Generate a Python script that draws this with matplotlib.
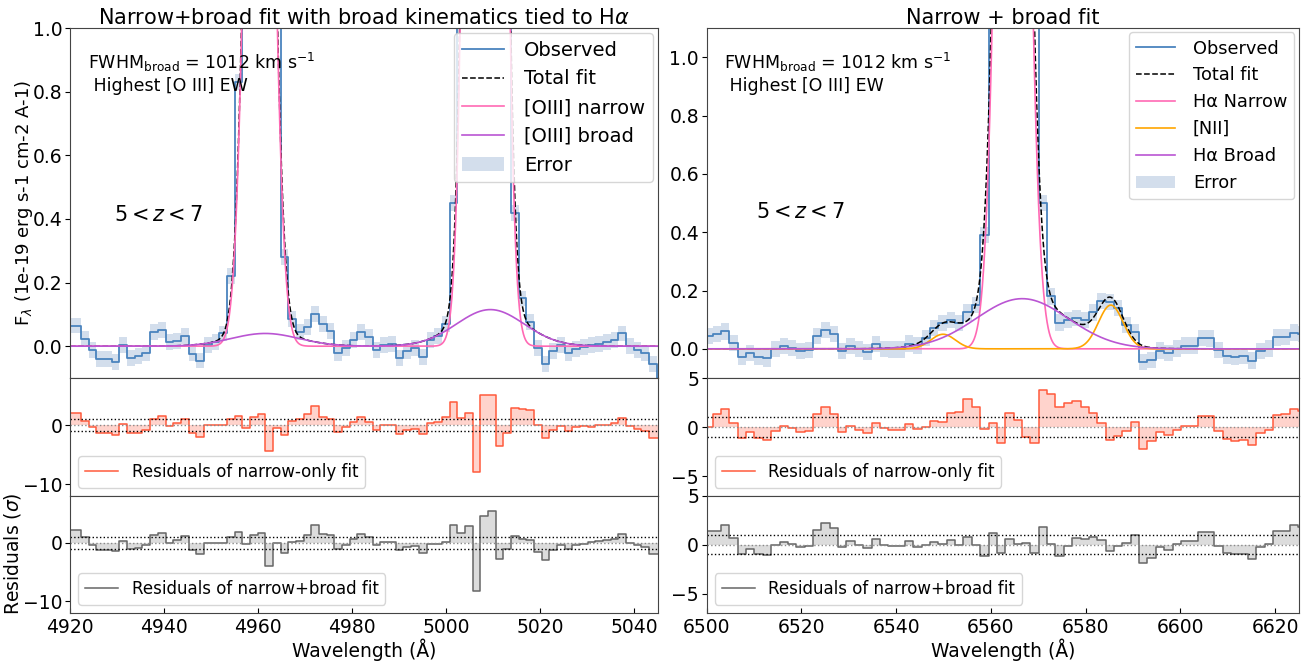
"""
Narrow vs narrow+broad fits of the stacked [O III] and Halpha profiles
(5 < z < 7, highest [O III] EW bin), with residual panels underneath.

Output: out.png
"""

import matplotlib.pyplot as plt
import numpy as np

# ── Data ──────────────────────────────────────────────────────────────────────
# Spectral grid: centre of first bin and bin width (Å, rest frame)
LEFT_BIN_START = 4919.89
LEFT_BIN_WIDTH = 1.633
RIGHT_BIN_START = 6500.38
RIGHT_BIN_WIDTH = 1.765

# Observed flux (1e-19 erg s-1 cm-2 A-1); values > 1 run off the top of the plot
LEFT_FLUX = [
    0.065, 0.065, 0.023, -0.013, -0.040, -0.040, -0.050, 0.005, -0.037, -0.030,
    -0.020, 0.044, 0.052, 0.012, 0.016, 0.033, -0.023, -0.045, 0.005, 0.013,
    0.040, 0.220, 0.830, 1.70, 3.20, 3.50, 2.30, 1.15, 0.280, 0.085,
    0.045, 0.060, 0.100, 0.070, 0.048, -0.022, -0.006, 0.020, 0.044, 0.028,
    -0.013, 0.003, 0.006, -0.036, -0.015, -0.007, -0.035, 0.020, 0.031, 0.070,
    0.450, 1.30, 4.20, 7.50, 12.5, 9.50, 4.00, 1.40, 0.420, 0.150,
    0.075, -0.005, -0.055, -0.016, 0.003, -0.020, -0.008, -0.002, 0.004, 0.008,
    0.014, 0.020, 0.040, 0.000, -0.013, -0.021, -0.056, -0.100,
]
RIGHT_FLUX = [
    0.045, 0.050, 0.060, 0.020, -0.028, -0.015, -0.027, -0.033, 0.000, 0.009,
    0.002, -0.007, -0.003, 0.045, 0.065, 0.050, -0.007, 0.010, 0.000, -0.010,
    0.017, 0.000, -0.002, -0.002, 0.018, 0.012, 0.037, 0.072, 0.088, 0.100,
    0.088, 0.125, 0.150, 0.390, 1.60, 3.00, 4.30, 4.00, 2.40, 1.40,
    0.500, 0.180, 0.090, 0.098, 0.105, 0.098, 0.125, 0.163, 0.160, 0.140,
    0.082, 0.058, -0.045, -0.038, -0.006, -0.014, 0.001, 0.011, 0.011, 0.038,
    0.036, -0.003, -0.024, -0.028, -0.025, -0.040, -0.007, 0.001, 0.039, 0.040,
    0.056, 0.052,
]
LEFT_ERR = 0.025
RIGHT_ERR = 0.028

# Residuals in units of sigma
LEFT_RES_NARROW = [
    2.0, 2.0, 0.75, -0.3, -1.4, -1.3, -1.7, 0.2, -1.3, -1.3,
    -0.9, 1.0, 1.55, -0.2, 0.4, 1.0, -1.3, -2.0, 0.1, 0.0,
    0.0, 1.0, 1.55, -0.4, 1.4, 1.85, -4.4, -0.4, -1.7, 0.75,
    1.0, 1.9, 3.3, 1.4, 1.0, -1.15, -0.3, 0.6, 1.45, 0.6,
    -0.75, 0.0, 0.0, -1.45, -0.75, -0.6, -1.45, 0.4, 0.6, 1.45,
    4.0, 1.3, 2.0, -8.0, 5.05, 5.2, -3.55, -1.25, 2.9, 2.75,
    2.6, 0.0, -2.1, -0.85, -0.2, -1.0, -0.3, -0.2, -0.3, 0.0,
    0.1, 0.3, 1.25, -0.2, -0.6, -1.0, -2.1, -2.1,
]
LEFT_RES_BROAD = [
    2.1, 2.1, 1.0, -0.3, -1.3, -1.15, -1.4, 0.3, -1.0, -0.9,
    -0.45, 1.25, 1.7, 0.0, 0.5, 1.15, -1.15, -2.0, -0.05, -0.05,
    -0.05, 1.0, 1.8, -0.2, 1.25, 1.65, -4.0, 0.0, -1.8, 0.1,
    0.3, 1.4, 3.1, 1.55, 1.4, -1.0, -0.3, 0.7, 1.55, 1.0,
    -0.45, 0.1, 0.2, -1.3, -0.75, -0.6, -1.8, -0.15, -0.15, 0.1,
    3.1, 1.65, 2.8, -8.2, 4.6, 5.4, -2.85, -1.0, 1.15, 0.7,
    0.55, -1.6, -3.0, -1.3, -0.35, -1.0, -0.45, -0.15, 0.1, 0.3,
    0.5, 0.7, 1.45, 0.0, -0.45, -0.75, -2.0, -2.0,
]
RIGHT_RES_NARROW = [
    0.0, 1.3, 1.8, 0.4, -1.1, -0.5, -1.1, -1.35, -0.35, 0.15,
    -0.05, -0.5, -0.35, 1.3, 2.05, 1.35, -0.5, 0.15, -0.25, -0.6,
    0.4, -0.1, -0.3, -0.3, 0.35, -0.2, 0.0, 0.6, 0.5, 1.45,
    1.5, 2.9, 2.1, -0.2, 0.4, -1.6, 1.4, 0.7, -1.05, -1.6,
    3.8, 3.35, 2.0, 2.5, 2.65, 2.05, 1.45, 0.45, -1.3, -0.85,
    -0.4, 0.55, -2.2, -1.45, -0.5, -0.75, -0.25, 0.1, 0.1, 1.1,
    1.1, -0.4, -1.2, -1.4, -1.3, -1.8, -0.6, -0.25, 1.25, 1.3,
    1.8, 1.65,
]
RIGHT_RES_BROAD = [
    1.4, 1.4, 2.0, 0.7, -0.95, -0.45, -0.9, -1.1, 0.0, 0.3,
    0.05, -0.25, -0.1, 1.5, 2.2, 1.7, -0.25, 0.35, 0.0, -0.35,
    0.6, 0.0, -0.1, -0.15, 0.35, -0.25, 0.0, 0.25, 0.05, 0.45,
    -0.05, 0.8, -0.05, -1.2, 1.2, -0.85, 0.6, 0.05, 0.15, -0.85,
    1.85, 0.05, -1.2, -0.15, 0.65, 0.6, 0.75, 0.5, -0.6, -0.1,
    0.15, 1.0, -1.9, -1.35, -0.2, -0.5, 0.05, 0.4, 0.4, 1.35,
    1.3, -0.1, -0.85, -1.0, -0.9, -1.45, -0.25, 0.05, 1.4, 1.45,
    2.0, 1.85,
]

# Best-fit Gaussian components (centre Å, amplitude, sigma Å)
OIII_NARROW_CEN = [4960.3, 5008.3]
OIII_NARROW_AMP = [3.5, 12.0]
OIII_NARROW_SIG = 2.4
OIII_BROAD_CEN = [4961.5, 5009.4]
OIII_BROAD_AMP = [0.040, 0.115]
OIII_BROAD_SIG = 7.2

HA_NARROW_CEN = 6564.6
HA_NARROW_AMP = 4.5
HA_NARROW_SIG = 2.6
NII_CEN = [6549.9, 6585.3]
NII_AMP = [0.05, 0.15]
NII_SIG = 2.6
HA_BROAD_CEN = 6566.6
HA_BROAD_AMP = 0.172
HA_BROAD_SIG = 9.7

# ── Style ────────────────────────────────────────────────────────────────────
OBS_COLOR = "#4a84be"
ERR_COLOR = "lightsteelblue"
NARROW_COLOR = "#ff69b4"
BROAD_COLOR = "mediumorchid"
NII_COLOR = "orange"
RES_N_COLOR = "#ff5a3c"
RES_B_COLOR = "#666666"
SPINE_COLOR = "#444444"
TICK_SIZE = 13.5

LEFT_XLIM = (4920, 5045)
RIGHT_XLIM = (6500, 6625)

W_PX, H_PX = 1312, 662


def gauss(x, cen, amp, sig):
    return amp * np.exp(-0.5 * ((x - cen) / sig) ** 2)


def bin_centres(start, width, n):
    return start + width * np.arange(n)


def style_axes(ax):
    for sp in ax.spines.values():
        sp.set_color(SPINE_COLOR)
    ax.tick_params(axis="y", direction="out", labelsize=TICK_SIZE, pad=2)
    ax.tick_params(axis="x", direction="in", labelsize=TICK_SIZE)


def draw_observed(ax, wave, flux, err):
    flux = np.asarray(flux)
    ax.fill_between(wave, flux - err, flux + err, step="mid",
                    color=ERR_COLOR, alpha=0.55, lw=0, label="Error")
    ax.step(wave, flux, where="mid", color=OBS_COLOR, lw=1.3, label="Observed")


def draw_residuals(ax, wave, res, color, fill, label, ylim, yticks):
    ax.fill_between(wave, 0, res, step="mid", color=fill, lw=0)
    ax.step(wave, res, where="mid", color=color, lw=1.1, label=label)
    ax.axhline(0, color="#888888", ls=":", lw=1)
    for lev in (-1, 1):
        ax.axhline(lev, color="black", ls=":", lw=1)
    ax.set_ylim(*ylim)
    ax.set_yticks(yticks)
    ax.legend(loc="lower left", fontsize=12, handlelength=2.0)
    style_axes(ax)


def ordered_legend(ax, keys, fontsize):
    h, l = ax.get_legend_handles_labels()
    order = [l.index(k) for k in keys]
    ax.legend([h[i] for i in order], [l[i] for i in order],
              loc="upper right", fontsize=fontsize, borderaxespad=0.25,
              handletextpad=1.0, handlelength=2.2)


def fit_note(ax, zx, zy):
    ax.text(0.03, 0.935,
            r"FWHM$_{\mathrm{broad}}$ = 1012 km s$^{-1}$" + "\n Highest [O III] EW",
            transform=ax.transAxes, fontsize=12.5, va="top", ha="left")
    ax.text(zx, zy, r"$5 < z < 7$", transform=ax.transAxes,
            fontsize=15, va="center", ha="left")


def panel_oiii(ax):
    wave = bin_centres(LEFT_BIN_START, LEFT_BIN_WIDTH, len(LEFT_FLUX))
    x = np.linspace(*LEFT_XLIM, 3000)
    narrow = sum(gauss(x, c, a, OIII_NARROW_SIG)
                 for c, a in zip(OIII_NARROW_CEN, OIII_NARROW_AMP))
    broad = sum(gauss(x, c, a, OIII_BROAD_SIG)
                for c, a in zip(OIII_BROAD_CEN, OIII_BROAD_AMP))

    draw_observed(ax, wave, LEFT_FLUX, LEFT_ERR)
    ax.plot(x, narrow + broad, "k--", lw=1.1, label="Total fit")
    ax.plot(x, narrow, color=NARROW_COLOR, lw=1.2, label="[OIII] narrow")
    ax.plot(x, broad, color=BROAD_COLOR, lw=1.2, label="[OIII] broad")

    ordered_legend(ax, ("Observed", "Total fit", "[OIII] narrow",
                        "[OIII] broad", "Error"), 14)
    fit_note(ax, 0.075, 0.466)
    ax.set_xlim(*LEFT_XLIM)
    ax.set_ylim(-0.1, 1.0)
    ax.set_title(r"Narrow+broad fit with broad kinematics tied to H$\alpha$",
                 fontsize=15, pad=3)
    style_axes(ax)
    ax.tick_params(axis="x", bottom=False, labelbottom=False)


def panel_halpha(ax):
    wave = bin_centres(RIGHT_BIN_START, RIGHT_BIN_WIDTH, len(RIGHT_FLUX))
    x = np.linspace(*RIGHT_XLIM, 3000)
    narrow = gauss(x, HA_NARROW_CEN, HA_NARROW_AMP, HA_NARROW_SIG)
    nii = sum(gauss(x, c, a, NII_SIG) for c, a in zip(NII_CEN, NII_AMP))
    broad = gauss(x, HA_BROAD_CEN, HA_BROAD_AMP, HA_BROAD_SIG)

    draw_observed(ax, wave, RIGHT_FLUX, RIGHT_ERR)
    ax.plot(x, narrow + nii + broad, "k--", lw=1.1, label="Total fit")
    ax.plot(x, narrow, color=NARROW_COLOR, lw=1.2, label="Hα Narrow")
    ax.plot(x, nii, color=NII_COLOR, lw=1.2, label="[NII]")
    ax.plot(x, broad, color=BROAD_COLOR, lw=1.2, label="Hα Broad")

    ordered_legend(ax, ("Observed", "Total fit", "Hα Narrow", "[NII]",
                        "Hα Broad", "Error"), 12.8)
    fit_note(ax, 0.083, 0.474)
    ax.set_xlim(*RIGHT_XLIM)
    ax.set_ylim(-0.1, 1.1)
    ax.set_title("Narrow + broad fit", fontsize=15, pad=3)
    style_axes(ax)
    ax.tick_params(axis="x", bottom=False, labelbottom=False)


def main():
    fig = plt.figure(figsize=(W_PX / 100, H_PX / 100), dpi=100)

    lefts = (0.0534, 0.5386)
    widths = (0.4479, 0.4514)
    top_rect = (0.4290, 0.5287)
    mid_rect = (0.2508, 0.1782)
    bot_rect = (0.0740, 0.1768)

    axes = []
    for left, width in zip(lefts, widths):
        col = [fig.add_axes([left, r[0], width, r[1]])
               for r in (top_rect, mid_rect, bot_rect)]
        axes.append(col)

    panel_oiii(axes[0][0])
    panel_halpha(axes[1][0])

    wl = bin_centres(LEFT_BIN_START, LEFT_BIN_WIDTH, len(LEFT_RES_NARROW))
    wr = bin_centres(RIGHT_BIN_START, RIGHT_BIN_WIDTH, len(RIGHT_RES_NARROW))

    draw_residuals(axes[0][1], wl, LEFT_RES_NARROW, RES_N_COLOR, "#ffd3cc",
                   "Residuals of narrow-only fit", (-12, 8), [-10, 0])
    draw_residuals(axes[0][2], wl, LEFT_RES_BROAD, RES_B_COLOR, "#dcdcdc",
                   "Residuals of narrow+broad fit", (-12, 8), [-10, 0])
    draw_residuals(axes[1][1], wr, RIGHT_RES_NARROW, RES_N_COLOR, "#ffd3cc",
                   "Residuals of narrow-only fit", (-7, 5), [-5, 0, 5])
    draw_residuals(axes[1][2], wr, RIGHT_RES_BROAD, RES_B_COLOR, "#dcdcdc",
                   "Residuals of narrow+broad fit", (-7, 5), [-5, 0, 5])

    for col, xlim in zip(axes, (LEFT_XLIM, RIGHT_XLIM)):
        for ax in col[1:]:
            ax.set_xlim(*xlim)
        col[1].tick_params(axis="x", bottom=False, labelbottom=False)
        col[2].set_xlabel("Wavelength (Å)", fontsize=13.5, labelpad=1)

    # y labels placed by hand so they sit where the original has them
    fig.text(24 / W_PX, 1 - 203 / H_PX, r"F$_\lambda$ (1e-19 erg s-1 cm-2 A-1)",
             rotation=90, ha="center", va="center", fontsize=13)
    fig.text(13 / W_PX, 1 - 554 / H_PX, r"Residuals ($\sigma$)",
             rotation=90, ha="center", va="center", fontsize=13.5)

    fig.savefig("out.png", dpi=100)
    plt.close(fig)


if __name__ == "__main__":
    main()
